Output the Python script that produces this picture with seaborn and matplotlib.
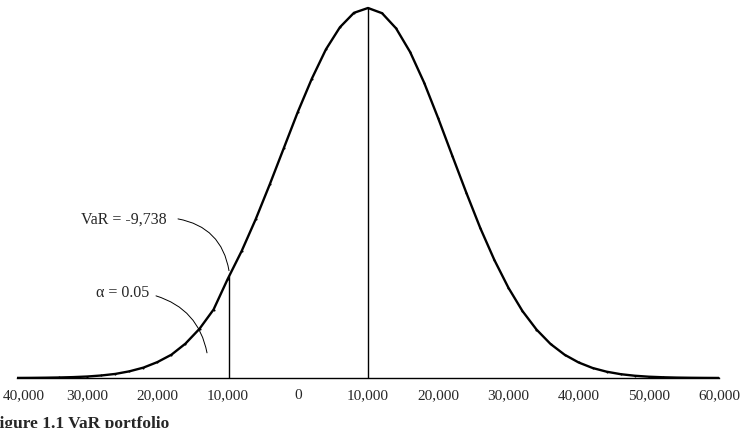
import numpy as np
import matplotlib
matplotlib.use('Agg')
import matplotlib.pyplot as plt
import matplotlib.transforms as mtransforms
import seaborn as sns

sns.set_style('white')
plt.rcParams['font.family'] = ['Liberation Serif', 'DejaVu Serif']

# portfolio value grid and relative density (peak = 1)
pnl = list(range(-40000, 60001, 2000))
density = [0.0002, 0.0004, 0.0008, 0.0014, 0.0024, 0.004, 0.0068, 0.011, 0.018, 0.028,
           0.043, 0.063, 0.093, 0.133, 0.185, 0.267, 0.343, 0.429, 0.523, 0.621,
           0.719, 0.809, 0.888, 0.948, 0.987, 1.0,
           0.986, 0.945, 0.881, 0.798, 0.702, 0.601, 0.501, 0.405, 0.319, 0.244,
           0.181, 0.131, 0.092, 0.063, 0.042, 0.027, 0.017, 0.0103, 0.0061, 0.0035,
           0.002, 0.0011, 0.0006, 0.0003, 0.0001]
mean_pnl = 10000
var_pnl = -9738
alpha = 0.05
tick_vals = [-40000, -30000, -20000, -10000, 0, 10000, 20000, 30000, 40000, 50000, 60000]
tick_text = ['40,000', '30,000', '20,000', '10,000', '0', '10,000', '20,000',
             '30,000', '40,000', '50,000', '60,000']

fig = plt.figure(figsize=(7.54, 4.28), dpi=100)
ax = fig.add_axes([17 / 754, 50 / 428, 702 / 754, 373 / 428])

sns.lineplot(x=pnl, y=density, ax=ax, color='black', linewidth=1.7,
             marker='.', markersize=3, markeredgewidth=0)

var_h = np.interp(var_pnl, pnl, density)
ax.vlines(var_pnl, 0, var_h, color='black', linewidth=1)
ax.vlines(mean_pnl, 0, max(density), color='black', linewidth=1)

ax.set_xlim(-40000, 60000)
ax.set_ylim(0, 373 / 370)
ax.set_yticks([])
ax.set_xticks(tick_vals)
ax.set_xticklabels(tick_text, fontsize=11)
ax.tick_params(axis='x', direction='out', length=6, width=1, pad=2, color='black')
# first label sits a bit right of its tick so it is not cut off
first = ax.get_xticklabels()[0]
first.set_transform(first.get_transform() +
                    mtransforms.ScaledTranslation(7 / 100, 0, fig.dpi_scale_trans))
for s in ['left', 'top', 'right']:
    ax.spines[s].set_visible(False)
ax.spines['bottom'].set_linewidth(1)
ax.spines['bottom'].set_color('black')

ax.text(-18632, 0.427, f'VaR = {var_pnl:,}', ha='right', va='center', fontsize=11.5)
ax.annotate('', xy=(-9801, 0.29), xytext=(-17066, 0.43),
            arrowprops=dict(arrowstyle='-', connectionstyle='arc3,rad=-0.35',
                            lw=0.7, color='black', shrinkA=0, shrinkB=0))
ax.text(-21197, 0.23, f'\u03b1 = {alpha}', ha='right', va='center', fontsize=11.5)
ax.annotate('', xy=(-12934, 0.068), xytext=(-20199, 0.222),
            arrowprops=dict(arrowstyle='-', connectionstyle='arc3,rad=-0.3',
                            lw=0.7, color='black', shrinkA=0, shrinkB=0))

fig.text(-0.015, 0.0, 'Figure 1.1 VaR portfolio', fontsize=12.5,
         fontweight='bold', ha='left', va='baseline')

fig.savefig('out.png', dpi=100)
